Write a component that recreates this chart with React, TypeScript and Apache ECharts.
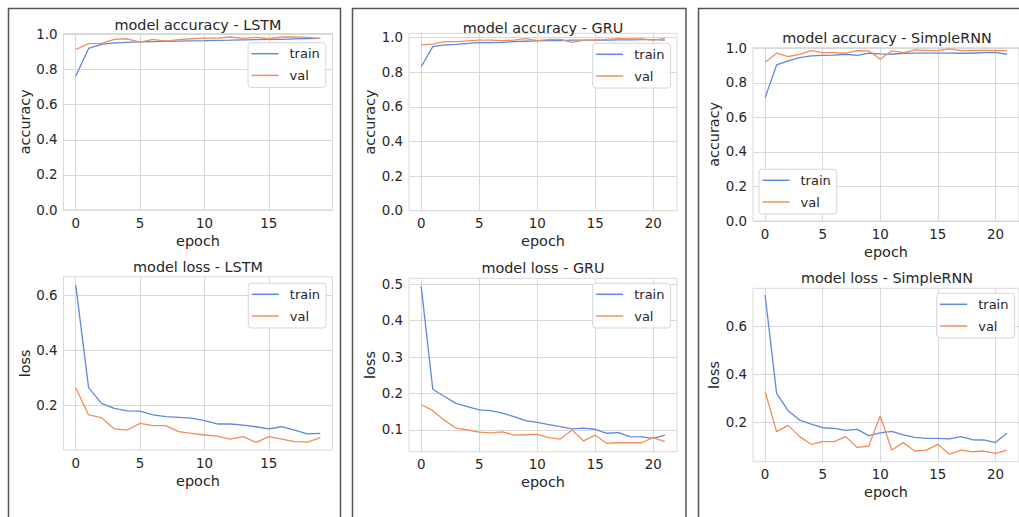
import React, { useEffect, useRef } from 'react';
import * as echarts from 'echarts';

// ---------- data ----------
const epochs20 = [0, 1, 2, 3, 4, 5, 6, 7, 8, 9, 10, 11, 12, 13, 14, 15, 16, 17, 18, 19];
const epochs22 = [0, 1, 2, 3, 4, 5, 6, 7, 8, 9, 10, 11, 12, 13, 14, 15, 16, 17, 18, 19, 20, 21];

const lstmAccTrain = [0.762, 0.920, 0.943, 0.952, 0.955, 0.957, 0.959, 0.961, 0.962, 0.963, 0.964, 0.966, 0.967, 0.969, 0.970, 0.971, 0.972, 0.974, 0.976, 0.977];
const lstmAccVal = [0.914, 0.947, 0.949, 0.971, 0.975, 0.956, 0.971, 0.962, 0.970, 0.975, 0.979, 0.979, 0.985, 0.977, 0.983, 0.975, 0.985, 0.985, 0.983, 0.977];
const lstmLossTrain = [0.636, 0.263, 0.206, 0.188, 0.179, 0.178, 0.164, 0.158, 0.155, 0.152, 0.143, 0.131, 0.131, 0.127, 0.121, 0.113, 0.121, 0.109, 0.095, 0.097];
const lstmLossVal = [0.263, 0.164, 0.154, 0.113, 0.109, 0.133, 0.125, 0.125, 0.103, 0.097, 0.091, 0.087, 0.076, 0.085, 0.064, 0.085, 0.076, 0.067, 0.065, 0.081];

const gruAccTrain = [0.832, 0.948, 0.958, 0.961, 0.967, 0.971, 0.971, 0.973, 0.977, 0.979, 0.981, 0.983, 0.983, 0.985, 0.985, 0.986, 0.986, 0.987, 0.987, 0.988, 0.988, 0.985];
const gruAccVal = [0.958, 0.963, 0.977, 0.977, 0.981, 0.985, 0.985, 0.983, 0.986, 0.994, 0.983, 0.990, 0.990, 0.973, 0.986, 0.986, 0.990, 0.994, 0.992, 0.992, 0.986, 0.996];
const gruLossTrain = [0.495, 0.212, 0.192, 0.173, 0.164, 0.155, 0.153, 0.146, 0.137, 0.126, 0.121, 0.115, 0.109, 0.103, 0.105, 0.102, 0.091, 0.093, 0.082, 0.081, 0.077, 0.086];
const gruLossVal = [0.170, 0.153, 0.127, 0.105, 0.100, 0.094, 0.092, 0.095, 0.086, 0.087, 0.088, 0.079, 0.075, 0.100, 0.070, 0.086, 0.063, 0.065, 0.065, 0.065, 0.079, 0.068];

const rnnAccTrain = [0.714, 0.903, 0.927, 0.946, 0.956, 0.959, 0.960, 0.965, 0.959, 0.971, 0.967, 0.965, 0.971, 0.972, 0.972, 0.972, 0.972, 0.971, 0.971, 0.975, 0.976, 0.965];
const rnnAccVal = [0.919, 0.971, 0.952, 0.965, 0.986, 0.975, 0.975, 0.971, 0.986, 0.985, 0.936, 0.985, 0.975, 0.990, 0.988, 0.986, 0.996, 0.986, 0.988, 0.988, 0.988, 0.986];
const rnnLossTrain = [0.732, 0.322, 0.250, 0.211, 0.194, 0.179, 0.176, 0.168, 0.172, 0.146, 0.158, 0.164, 0.149, 0.139, 0.135, 0.135, 0.133, 0.142, 0.129, 0.128, 0.117, 0.156];
const rnnLossVal = [0.329, 0.163, 0.189, 0.142, 0.110, 0.121, 0.121, 0.142, 0.097, 0.103, 0.228, 0.086, 0.117, 0.082, 0.086, 0.110, 0.069, 0.086, 0.079, 0.082, 0.072, 0.086];

const xTicks20 = [0, 5, 10, 15];
const xTicks22 = [0, 5, 10, 15, 20];
const accTicks = [0, 0.2, 0.4, 0.6, 0.8, 1.0];
const lstmLossTicks = [0.2, 0.4, 0.6];
const gruLossTicks = [0.1, 0.2, 0.3, 0.4, 0.5];
const rnnLossTicks = [0.2, 0.4, 0.6];

const seriesNames = ['train', 'val'];
const titles = [
  'model accuracy - LSTM',
  'model loss - LSTM',
  'model accuracy - GRU',
  'model loss - GRU',
  'model accuracy - SimpleRNN',
  'model loss - SimpleRNN',
];
const xName = 'epoch';
const yNames = ['accuracy', 'loss', 'accuracy', 'loss', 'accuracy', 'loss'];

// ---------- styling ----------
const FONT = 'DejaVu Sans';
const TEXT = '#262626';
const GRIDC = '#d9d9d9';
const COLORS = ['#6088e0', '#f28e5b'];

const panels = [
  { epochs: epochs20, train: lstmAccTrain, val: lstmAccVal, xTicks: xTicks20, yTicks: accTicks,
    left: 63.5, top: 33.5, width: 269, height: 176.5, xMin: -0.95, xMax: 19.95, yMin: 0, yMax: 1.005,
    titleX: 198, titleY: 25, legend: { left: 248, top: 42.7 } },
  { epochs: epochs20, train: lstmLossTrain, val: lstmLossVal, xTicks: xTicks20, yTicks: lstmLossTicks,
    left: 63.5, top: 276.7, width: 269, height: 173.3, xMin: -0.95, xMax: 19.95, yMin: 0.0364, yMax: 0.6667,
    titleX: 198, titleY: 266.7, legend: { left: 248.3, top: 283.3 } },
  { epochs: epochs22, train: gruAccTrain, val: gruAccVal, xTicks: xTicks22, yTicks: accTicks,
    left: 409, top: 33.3, width: 268, height: 177.4, xMin: -1.05, xMax: 22.05, yMin: 0, yMax: 1.025,
    titleX: 543, titleY: 27.7, legend: { left: 592.7, top: 43.3 } },
  { epochs: epochs22, train: gruLossTrain, val: gruLossVal, xTicks: xTicks22, yTicks: gruLossTicks,
    left: 409, top: 278.3, width: 268, height: 173.4, xMin: -1.05, xMax: 22.05, yMin: 0.0404, yMax: 0.5165,
    titleX: 543, titleY: 268.3, legend: { left: 592.7, top: 283.3 } },
  { epochs: epochs22, train: rnnAccTrain, val: rnnAccVal, xTicks: xTicks22, yTicks: accTicks,
    left: 753, top: 47.7, width: 268, height: 173.3, xMin: -1.05, xMax: 22.05, yMin: 0, yMax: 1.003,
    titleX: 887, titleY: 37.7, legend: { left: 759, top: 169.3 } },
  { epochs: epochs22, train: rnnLossTrain, val: rnnLossVal, xTicks: xTicks22, yTicks: rnnLossTicks,
    left: 753, top: 288.3, width: 268, height: 173.4, xMin: -1.05, xMax: 22.05, yMin: 0.0375, yMax: 0.76,
    titleX: 887, titleY: 278.3, legend: { left: 936.7, top: 293.3 } },
];

function buildOption() {
  const grid: any[] = [];
  const xAxis: any[] = [];
  const yAxis: any[] = [];
  const series: any[] = [];
  const legend: any[] = [];
  const graphic: any[] = [];

  // panel frames
  const frames = [
    { x: 8.5, y: 8.5, w: 332, h: 520 },
    { x: 352.5, y: 8.5, w: 333.5, h: 520 },
    { x: 698.5, y: 8.5, w: 400, h: 520 },
  ];
  frames.forEach((f) => {
    graphic.push({
      type: 'rect', silent: true, z: 100,
      shape: { x: f.x, y: f.y, width: f.w, height: f.h },
      style: { fill: 'none', stroke: '#555555', lineWidth: 1.5 },
    });
  });

  panels.forEach((p, i) => {
    grid.push({
      left: p.left, top: p.top, width: p.width, height: p.height,
      show: true, borderColor: GRIDC, borderWidth: 1, backgroundColor: '#ffffff',
      containLabel: false,
    });
    xAxis.push({
      type: 'value', gridIndex: i, min: p.xMin, max: p.xMax,
      name: xName, nameLocation: 'middle', nameGap: 23.5,
      nameTextStyle: { fontFamily: FONT, fontSize: 14.4, color: TEXT },
      axisLine: { show: false },
      axisTick: { show: false, customValues: p.xTicks },
      axisLabel: {
        customValues: p.xTicks, margin: 6.5, fontFamily: FONT, fontSize: 13.4, color: TEXT,
        formatter: (v: number) => String(Math.round(v)),
      },
      splitLine: { show: true, lineStyle: { color: GRIDC, width: 1 } },
    });
    yAxis.push({
      type: 'value', gridIndex: i, min: p.yMin, max: p.yMax,
      name: yNames[i], nameLocation: 'middle', nameGap: 32,
      nameTextStyle: { fontFamily: FONT, fontSize: 14.4, color: TEXT },
      axisLine: { show: false },
      axisTick: { show: false, customValues: p.yTicks },
      axisLabel: {
        customValues: p.yTicks, margin: 6, fontFamily: FONT, fontSize: 13.4, color: TEXT,
        formatter: (v: number) => v.toFixed(1),
      },
      splitLine: { show: true, lineStyle: { color: GRIDC, width: 1 } },
    });
    [p.train, p.val].forEach((arr, k) => {
      series.push({
        type: 'line', name: seriesNames[k], xAxisIndex: i, yAxisIndex: i,
        data: p.epochs.map((e, j) => [e, arr[j]]),
        showSymbol: false, symbol: 'none', silent: true,
        lineStyle: { color: COLORS[k], width: 1.3 },
        itemStyle: { color: COLORS[k] },
      });
    });
    legend.push({
      data: seriesNames, orient: 'vertical', left: p.legend.left, top: p.legend.top,
      icon: 'rect', itemWidth: 27, itemHeight: 1.5, itemGap: 5.7,
      padding: [3, 6, 4, 3.5],
      backgroundColor: 'rgba(255,255,255,0.85)', borderColor: '#d6d6d6', borderWidth: 1, borderRadius: 3,
      selectedMode: false,
      textStyle: { fontFamily: FONT, fontSize: 13, color: TEXT, lineHeight: 16, padding: [0, 0, 0, 6] },
    });
    graphic.push({
      type: 'text', silent: true, x: p.titleX, y: p.titleY,
      style: {
        text: titles[i], fontFamily: FONT, fontSize: 14.4, fill: TEXT,
        align: 'center', verticalAlign: 'middle',
      },
    });
  });

  return {
    animation: false,
    backgroundColor: '#ffffff',
    grid, xAxis, yAxis, series, legend, graphic,
  };
}

export default function App() {
  const ref = useRef<HTMLDivElement>(null);
  useEffect(() => {
    if (!ref.current) return;
    const chart = echarts.init(ref.current, null, { renderer: 'svg' });
    chart.setOption(buildOption() as any);
    return () => chart.dispose();
  }, []);
  return (
    <div
      ref={ref}
      style={{ position: 'fixed', left: 0, top: 0, width: 1019, height: 517, background: '#ffffff' }}
    />
  );
}
